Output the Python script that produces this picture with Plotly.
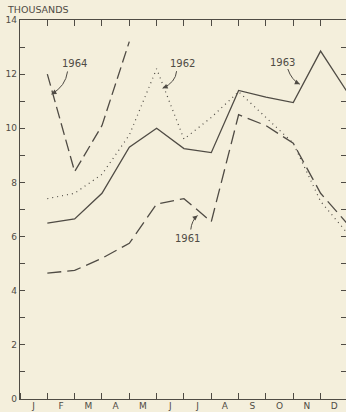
import plotly.graph_objects as go

months = ["J", "F", "M", "A", "M", "J", "J", "A", "S", "O", "N", "D"]
x_pos = list(range(1, 13))

y1961 = [4.65, 4.75, 5.2, 5.75, 7.2, 7.4, 6.55, 10.5, 10.1, 9.45, 7.6, 6.45]
y1962 = [7.4, 7.6, 8.3, 9.75, 12.2, 9.6, 10.4, 11.35, 10.4, 9.45, 7.3, 6.1]
y1963 = [6.5, 6.65, 7.6, 9.3, 10.0, 9.25, 9.1, 11.4, 11.15, 10.95, 12.85, 11.3]
y1964 = [12.0, 8.4, 10.1, 13.2]

ink = "#4f4b44"
bg = "#f4efdc"
font = dict(size=10, color=ink, family="DejaVu Sans")

fig = go.Figure()
fig.add_trace(go.Scatter(x=x_pos, y=y1961, mode="lines",
                         line=dict(color=ink, width=1.3, dash="14px,6px")))
fig.add_trace(go.Scatter(x=x_pos, y=y1962, mode="lines",
                         line=dict(color=ink, width=1.2, dash="1px,4px")))
fig.add_trace(go.Scatter(x=x_pos, y=y1963, mode="lines",
                         line=dict(color=ink, width=1.3)))
fig.add_trace(go.Scatter(x=x_pos[:4], y=y1964, mode="lines",
                         line=dict(color=ink, width=1.3, dash="12px,5px")))
# dummy traces so the top / right tick axes get drawn
fig.add_trace(go.Scatter(x=[None], y=[None], xaxis="x2", yaxis="y2", hoverinfo="skip"))

# labels with curved pointers: (text, label x, label y, curve start, control, tip)
labels = [
    ("1964", 2.0, 12.4, (1.74, 12.1), (1.67, 11.55), (1.15, 11.26)),
    ("1962", 5.96, 12.4, (5.73, 12.11), (5.70, 11.7), (5.22, 11.48)),
    ("1963", 9.62, 12.44, (9.80, 12.19), (9.94, 11.78), (10.24, 11.63)),
    ("1961", 6.14, 5.93, (6.25, 6.26), (6.28, 6.59), (6.50, 6.78)),
]
for txt, lx, ly, p0, pc, p1 in labels:
    fig.add_annotation(x=lx, y=ly, text=txt, showarrow=False, font=font)
    fig.add_shape(type="path", xref="x", yref="y",
                  path=f"M {p0[0]},{p0[1]} Q {pc[0]},{pc[1]} {p1[0]},{p1[1]}",
                  line=dict(color=ink, width=1))
    dx = (pc[0] - p1[0]) * 27.3
    dy = -(pc[1] - p1[1]) * 27.0
    n = (dx ** 2 + dy ** 2) ** 0.5
    fig.add_annotation(x=p1[0], y=p1[1], text="", showarrow=True,
                       ax=dx / n * 7, ay=dy / n * 7, arrowhead=2,
                       arrowsize=1, arrowwidth=1, arrowcolor=ink)

fig.add_annotation(xref="paper", yref="paper", x=-0.046, y=1.0265,
                   xanchor="left", yanchor="middle", text="THOUSANDS",
                   showarrow=False,
                   font=dict(size=9.5, color=ink, family="DejaVu Sans"))

fig.update_layout(
    width=346, height=412,
    margin=dict(l=20, r=0, t=20, b=13),
    paper_bgcolor=bg, plot_bgcolor=bg,
    showlegend=False,
    xaxis=dict(range=[0, 11.93], tickvals=[i + 0.5 for i in range(12)],
               ticktext=months, ticks="", showgrid=False, zeroline=False,
               showline=True, linecolor=ink, linewidth=1.3, mirror=True,
               automargin=False, ticklabelstandoff=-2,
               tickfont=dict(size=9, color=ink, family="DejaVu Sans"),
               minor=dict(tickvals=list(range(13)), ticks="inside",
                          ticklen=6, tickcolor=ink, tickwidth=1.2, showgrid=False)),
    xaxis2=dict(range=[0, 11.93], overlaying="x", side="top",
                tickvals=list(range(13)), ticks="inside", ticklen=6,
                tickcolor=ink, tickwidth=1.2, showticklabels=False,
                showgrid=False, zeroline=False, showline=False,
                automargin=False),
    yaxis=dict(range=[0, 14], tickvals=list(range(15)),
               ticktext=[str(v) if v % 2 == 0 else "" for v in range(15)],
               ticks="inside", ticklen=5, tickcolor=ink, tickwidth=1.2,
               showgrid=False, zeroline=False, showline=True,
               linecolor=ink, linewidth=1.3, automargin=False,
               tickfont=dict(size=9, color=ink, family="DejaVu Sans")),
    yaxis2=dict(range=[0, 14], overlaying="y", side="right",
                tickvals=list(range(1, 14)), ticks="inside", ticklen=5,
                tickcolor=ink, tickwidth=1.2, showticklabels=False,
                showgrid=False, zeroline=False, showline=False,
                automargin=False),
)

fig.write_html("out.html", config={"displayModeBar": False},
               post_script="document.body.style.margin='0px';")
